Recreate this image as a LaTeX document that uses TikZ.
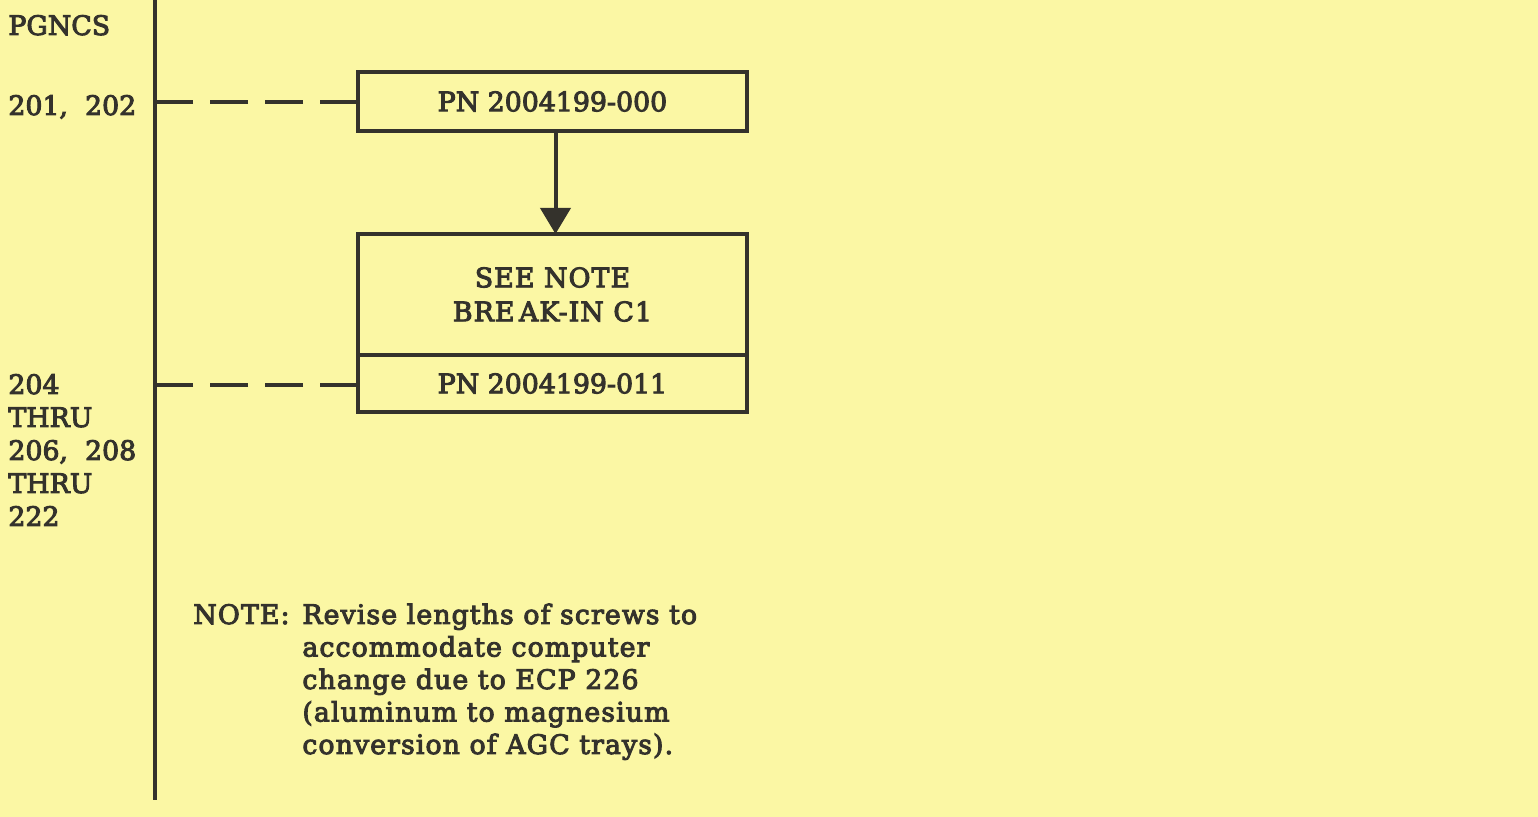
\documentclass[tikz,border=0pt]{standalone}
\usepackage{fontspec}
\setmainfont{DejaVu Serif}[FakeBold=3.6]
\usetikzlibrary{arrows.meta}
\definecolor{paper}{RGB}{251,247,164}
\definecolor{ink}{RGB}{52,50,44}
\tikzset{
  ink line/.style={draw=ink, line width=1.6pt},
  txt/.style={font=\fontsize{13.4}{15.5}\selectfont, text=ink},
  pnbox/.style={ink line, txt, minimum width=194.5pt, inner sep=0pt, outer sep=0pt},
  lbl/.style={txt, anchor=base west, inner sep=0pt},
  wide/.style={font=\fontsize{13.4}{15.5}\selectfont\addfontfeature{LetterSpace=4}},
  dashlink/.style={draw=ink, line width=1.6pt, dash pattern=on 19pt off 8.5pt},
  flow/.style={draw=ink, line width=2pt, -{Triangle[length=13pt,width=15pt]}}
}
\begin{document}
\begin{tikzpicture}[x=0.5pt,y=-0.5pt]
\fill[paper] (0,0) rectangle (1538,817);
\useasboundingbox (0,0) rectangle (1538,817);
% vertical rule
\coordinate (vtop) at (155,0);
\coordinate (vbot) at (155,800);
\draw[ink line] (vtop) -- (vbot);
% boxes
\node[pnbox, minimum height=29.5pt, anchor=north west] (b1) at (358,72) {PN 2004199-000};
\node[pnbox, wide, minimum height=60.5pt, anchor=north west, align=center] (b2) at (358,234) {SEE NOTE\\[1.5pt]BRE\,AK-IN C1};
\node[pnbox, minimum height=28.5pt, anchor=north west] (b3) at (b2.south west) {PN 2004199-011};
% connectors
\coordinate (d1) at (155,102);
\coordinate (d2) at (155,385);
\draw[dashlink] (d1 -| b1.west) -- (d1);
\draw[dashlink] (d2 -| b3.west) -- (d2);
\draw[flow] ([xshift=1.5pt]b1.south) -- ([xshift=1.5pt]b2.north);
% left labels
\node[lbl] (l0) at (8,35) {PGNCS};
\node[lbl] (l1) at (8,115) {201,\ \ 202};
\node[lbl] (l2) at (8,394) {204};
\node[lbl] (l3) at (8,427) {THRU};
\node[lbl] (l4) at (8,460) {206,\ \ 208};
\node[lbl] (l5) at (8,493) {THRU};
\node[lbl] (l6) at (8,526) {222};
% note
\node[lbl, wide] (nt) at (193,624) {NOTE:};
\node[lbl, wide] (n1) at (302,624) {Revise lengths of screws to};
\node[lbl, wide] (n2) at (302,656.5) {accommodate computer};
\node[lbl, wide] (n3) at (302,689) {change due to ECP 226};
\node[lbl, wide] (n4) at (302,721.5) {(aluminum to magnesium};
\node[lbl, wide] (n5) at (302,754) {conversion of AGC trays).};
\end{tikzpicture}
\end{document}
